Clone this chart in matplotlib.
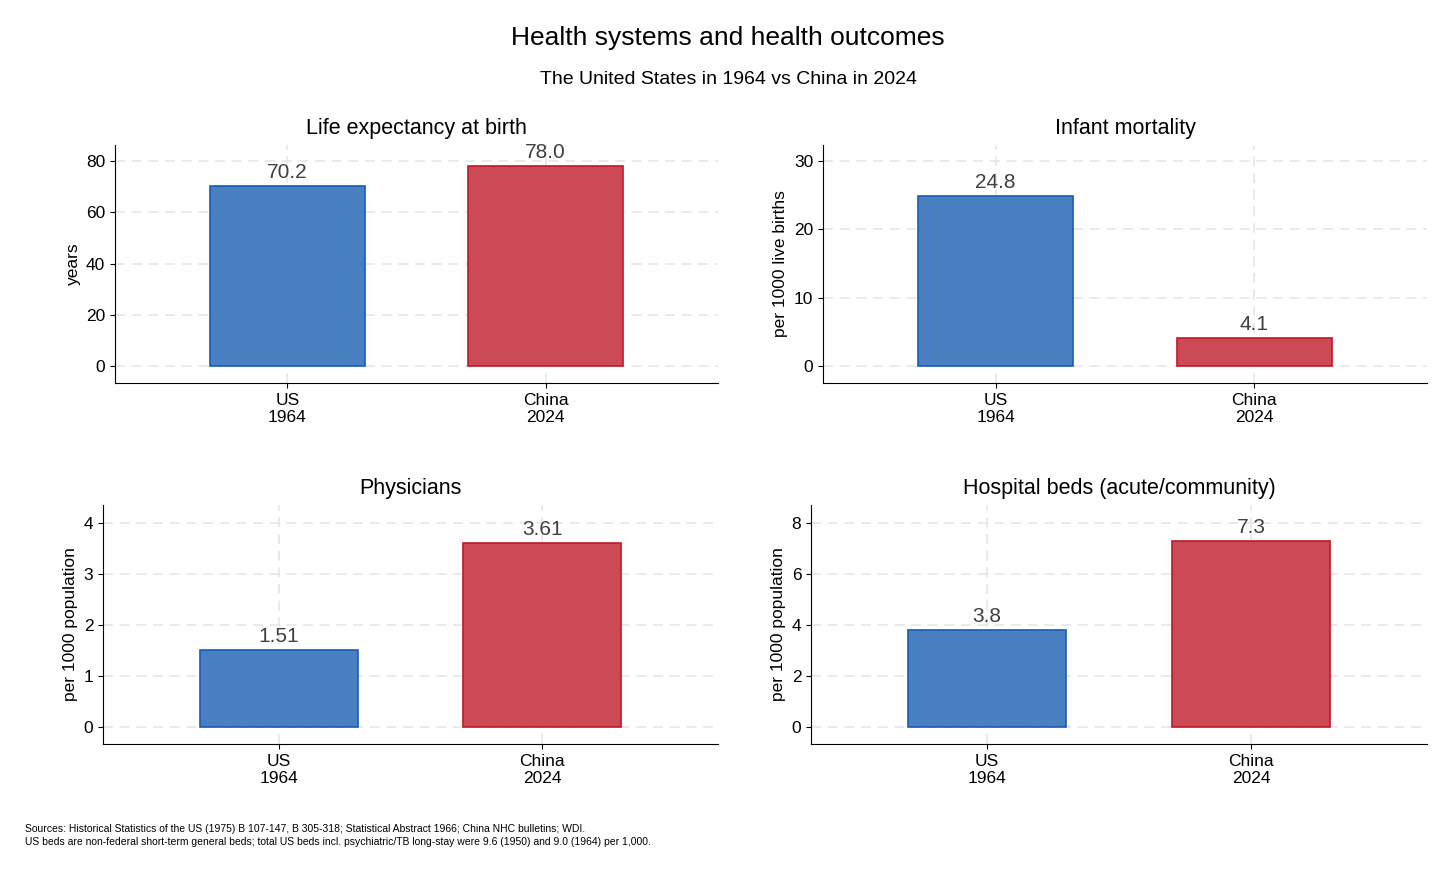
import matplotlib
matplotlib.use("Agg")
import matplotlib.pyplot as plt

plt.rcParams['font.family'] = ['Liberation Sans', 'DejaVu Sans']

categories = ["US\n1964", "China\n2024"]
titles = ["Life expectancy at birth", "Infant mortality", "Physicians", "Hospital beds (acute/community)"]
ylabels = ["years", "per 1000 live births", "per 1000 population", "per 1000 population"]
values = [[70.2, 78.0], [24.8, 4.1], [1.51, 3.61], [3.8, 7.3]]
labels = [["70.2", "78.0"], ["24.8", "4.1"], ["1.51", "3.61"], ["3.8", "7.3"]]
yticks = [[0, 20, 40, 60, 80], [0, 10, 20, 30], [0, 1, 2, 3, 4], [0, 2, 4, 6, 8]]
ylims = [(-6.6, 86.3), (-2.5, 32.3), (-0.33, 4.35), (-0.67, 8.7)]

W, H = 1456, 874
fig = plt.figure(figsize=(W/100, H/100), dpi=100)
boxes = [(115, 145, 718, 383), (823, 145, 1427, 383), (103, 505, 718, 744), (811, 505, 1427, 744)]
fills = ["#4880C2", "#CC4A55"]
edges = ["#1A5BB5", "#C0182A"]

for i, (x0, y0, x1, y1) in enumerate(boxes):
    ax = fig.add_axes([x0/W, 1-y1/H, (x1-x0)/W, (y1-y0)/H])
    ax.set_axisbelow(True)
    ax.bar([0, 1], values[i], width=0.6, color=fills, edgecolor=edges, linewidth=1.2)
    for j, v in enumerate(values[i]):
        ax.annotate(labels[i][j], (j, v), xytext=(0, 3), textcoords="offset points",
                    ha="center", va="bottom", fontsize=15, color="#404040")
    ax.set_xlim(-0.667, 1.667)
    ax.set_ylim(*ylims[i])
    ax.set_xticks([0, 1])
    ax.set_xticklabels(categories, fontsize=12.5)
    ax.set_yticks(yticks[i])
    ax.tick_params(labelsize=12.5)
    ax.set_ylabel(ylabels[i], fontsize=12.5)
    ax.set_title(titles[i], fontsize=15.5, pad=8)
    ax.grid(True, color="#E6E6E6", linestyle=(0, (6, 4)), linewidth=1.2)
    for s in ["top", "right"]:
        ax.spines[s].set_visible(False)

fig.text(0.5, 1-38/H, "Health systems and health outcomes", ha="center", va="center", fontsize=19)
fig.text(0.5, 1-80/H, "The United States in 1964 vs China in 2024", ha="center", va="center", fontsize=14)
fig.text(25/W, 1-829/H, "Sources: Historical Statistics of the US (1975) B 107-147, B 305-318; Statistical Abstract 1966; China NHC bulletins; WDI.",
         fontsize=7.5, va="center")
fig.text(25/W, 1-842/H, "US beds are non-federal short-term general beds; total US beds incl. psychiatric/TB long-stay were 9.6 (1950) and 9.0 (1964) per 1,000.",
         fontsize=7.5, va="center")
fig.savefig("out.png", dpi=100)
